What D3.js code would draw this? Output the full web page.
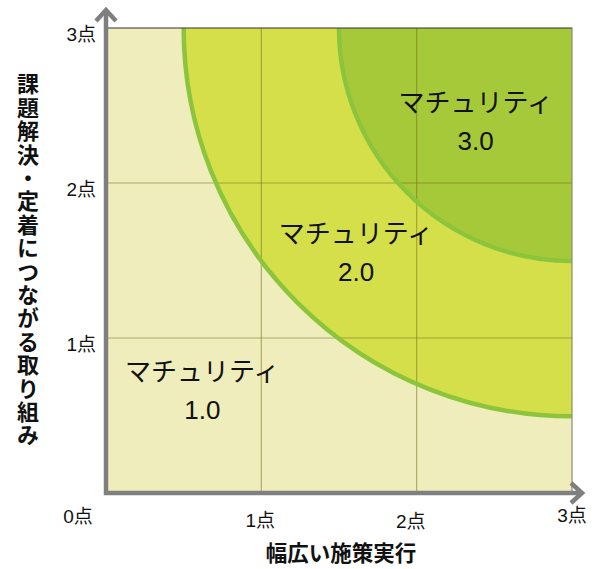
<!DOCTYPE html>
<html>
<head>
<meta charset="utf-8">
<script src="https://cdn.jsdelivr.net/npm/d3@7"></script>
<style>
  html, body { margin: 0; padding: 0; background: #fff; }
  text { font-family: "Noto Sans CJK JP", "Noto Sans", sans-serif; fill: #111; }
</style>
</head>
<body>
<svg id="chart" width="595" height="569"></svg>
<script>
// Axis ticks (score 0–3) on both axes
const xTicks = [0, 1, 2, 3];
const yTicks = [0, 1, 2, 3];
const tickSuffix = "点";

// Maturity zones: quarter-circle radii measured from the (3,3) corner
const zoneNames = ["マチュリティ", "マチュリティ", "マチュリティ"];
const zoneLevels = ["1.0", "2.0", "3.0"];
const zoneRadii = [2.5, 1.5];           // boundaries between 1.0|2.0 and 2.0|3.0
const zoneLabelX = [0.62, 1.61, 2.38];   // label anchor in score units
const zoneLabelY = [0.70, 1.59, 2.43];

const xTitle = "幅広い施策実行";
const yTitle = "課題解決・定着につながる取り組み";

(function draw() {
  const svg = d3.select("#chart");
  const pLeft = 106, pRight = 572, pTop = 28, pBottom = 493;

  const x = d3.scaleLinear().domain([0, 3]).range([pLeft, pRight]);
  const y = d3.scaleLinear().domain([0, 3]).range([pBottom, pTop]);

  const zoneColors = ["#eeedbb", "#d5df4a", "#a6c93a"];
  const edgeColor = "#8cc53c";

  svg.append("defs").append("clipPath").attr("id", "plot")
    .append("rect").attr("x", pLeft).attr("y", pTop)
    .attr("width", pRight - pLeft).attr("height", pBottom - pTop);

  const plot = svg.append("g").attr("clip-path", "url(#plot)");

  // base zone
  plot.append("rect").attr("x", pLeft).attr("y", pTop)
    .attr("width", pRight - pLeft).attr("height", pBottom - pTop)
    .attr("fill", zoneColors[0]);

  // quarter-circle zones centred on the top-right corner
  plot.selectAll("circle.zone").data(zoneRadii).join("circle")
    .attr("class", "zone")
    .attr("cx", x(3)).attr("cy", y(3))
    .attr("r", d => x(3) - x(3 - d))
    .attr("fill", (d, i) => zoneColors[i + 1]);

  // grid lines
  const grid = plot.append("g");
  grid.selectAll("line.gx").data(xTicks.slice(1, -1)).join("line")
    .attr("class", "gx")
    .attr("x1", d => x(d)).attr("x2", d => x(d))
    .attr("y1", pTop).attr("y2", pBottom)
    .attr("stroke", "#6e6a1e").attr("stroke-opacity", 0.5).attr("stroke-width", 1.2);
  grid.selectAll("line.gy").data(yTicks.slice(1, -1)).join("line")
    .attr("class", "gy")
    .attr("y1", d => y(d)).attr("y2", d => y(d))
    .attr("x1", pLeft).attr("x2", pRight)
    .attr("stroke", "#6e6a1e").attr("stroke-opacity", 0.5).attr("stroke-width", 1.2);

  // zone boundary arcs
  plot.selectAll("circle.edge").data(zoneRadii).join("circle")
    .attr("class", "edge")
    .attr("cx", x(3)).attr("cy", y(3))
    .attr("r", d => x(3) - x(3 - d))
    .attr("fill", "none")
    .attr("stroke", edgeColor).attr("stroke-width", 4.5);

  // plot frame (top and right)
  svg.append("line").attr("x1", pLeft).attr("x2", pRight + 0.5)
    .attr("y1", pTop).attr("y2", pTop)
    .attr("stroke", "#333").attr("stroke-width", 1.2);
  svg.append("line").attr("x1", pRight).attr("x2", pRight)
    .attr("y1", pTop).attr("y2", pBottom)
    .attr("stroke", "#8a8a7a").attr("stroke-width", 1.2);

  // zone labels
  const labelFont = "'Liberation Sans', Arial, 'Noto Sans CJK JP', sans-serif";
  const labels = svg.append("g");
  zoneLevels.forEach((lv, i) => {
    const t = labels.append("text")
      .attr("x", x(zoneLabelX[i])).attr("y", y(zoneLabelY[i]))
      .attr("text-anchor", "middle")
      .style("font-size", "26px")
      .style("font-family", labelFont);
    t.append("tspan").attr("x", x(zoneLabelX[i])).attr("dy", "-0.15em").text(zoneNames[i]);
    t.append("tspan").attr("x", x(zoneLabelX[i])).attr("dy", "1.46em").text(lv);
  });

  // axes with arrowheads
  const axisColor = "#7f7f80";
  const axes = svg.append("g").attr("stroke", axisColor).attr("fill", "none")
    .attr("stroke-width", 4.5);
  axes.append("path").attr("d", `M${x(0)},${y(0) + 2}V${pTop - 16}`);
  axes.append("path").attr("d", `M${x(0) - 2},${y(0)}H${pRight + 8}`);
  axes.append("path").attr("stroke-linejoin", "miter")
    .attr("d", `M${x(0) - 10},${pTop - 7}L${x(0)},${pTop - 18}L${x(0) + 10},${pTop - 7}`);
  axes.append("path").attr("stroke-linejoin", "miter")
    .attr("d", `M${pRight - 1},${y(0) - 10}L${pRight + 10},${y(0)}L${pRight - 1},${y(0) + 10}`);

  // tick labels
  const xTickOffsets = [-28, -1, -6, 0];
  const xTickDrop = [30, 34, 35, 29];
  svg.append("g").selectAll("text").data(xTicks).join("text")
    .attr("x", (d, i) => x(d) + xTickOffsets[i])
    .attr("y", (d, i) => pBottom + xTickDrop[i])
    .attr("text-anchor", "middle")
    .style("font-size", "19px").style("font-family", labelFont)
    .text(d => d + tickSuffix);
  svg.append("g").selectAll("text").data(yTicks.slice(1)).join("text")
    .attr("x", x(0) - 10)
    .attr("y", d => y(d) + 13)
    .attr("text-anchor", "end")
    .style("font-size", "19px").style("font-family", labelFont)
    .text(d => d + tickSuffix);

  // axis titles
  svg.append("text")
    .attr("x", 341).attr("y", 561)
    .attr("text-anchor", "middle")
    .style("font-size", "21.5px").style("font-weight", "bold")
    .text(xTitle);

  svg.append("text")
    .attr("x", 28).attr("y", 73)
    .style("writing-mode", "vertical-rl")
    .style("font-size", "22px").style("font-weight", "bold")
    .style("letter-spacing", "1.4px")
    .text(yTitle);
})();
</script>
</body>
</html>
